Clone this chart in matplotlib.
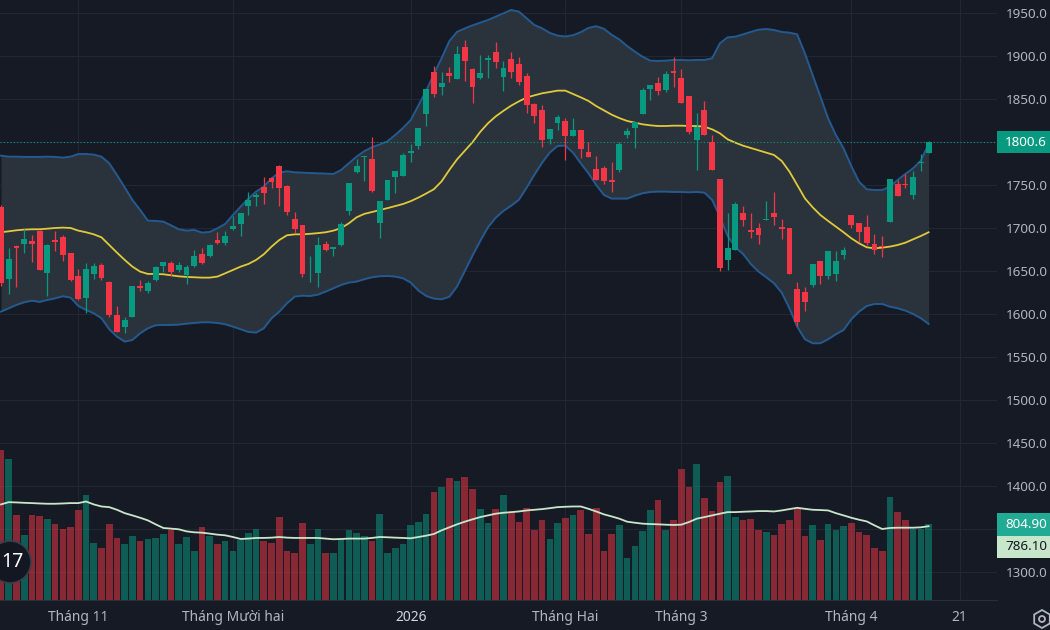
import matplotlib

matplotlib.use("Agg")
import matplotlib.pyplot as plt
from matplotlib.patches import Circle, Rectangle, RegularPolygon
from matplotlib.transforms import IdentityTransform

plt.rcParams["font.family"] = ["Noto Sans", "DejaVu Sans"]

# ---------- data (daily candles, ~Oct 2025 - Apr 2026) ----------
opens = [1724, 1641, 1679, 1681, 1685, 1697, 1648, 1686, 1690, 1671,
         1644, 1618, 1647, 1657, 1637, 1599, 1585, 1597, 1632, 1627,
         1640, 1656, 1659, 1651, 1645, 1656, 1670, 1667, 1686, 1683,
         1699, 1705, 1726, 1736, 1748, 1758, 1772, 1749, 1711, 1704,
         1646, 1648, 1681, 1676, 1680, 1720, 1765, 1783, 1780, 1706,
         1733, 1759, 1761, 1787, 1796, 1833, 1882, 1864, 1881, 1874,
         1911, 1885, 1875, 1896, 1905, 1876, 1897, 1891, 1877, 1844,
         1838, 1804, 1822, 1825, 1807, 1814, 1789, 1769, 1770, 1756,
         1768, 1808, 1817, 1833, 1862, 1869, 1861, 1883, 1875, 1854,
         1803, 1838, 1800, 1757, 1663, 1675, 1717, 1698, 1700, 1709,
         1718, 1701, 1700, 1629, 1626, 1634, 1662, 1644, 1646, 1669,
         1715, 1706, 1701, 1682, 1679, 1707, 1751, 1751, 1739, 1776, 1787]
highs = [1727, 1677, 1680, 1699, 1692, 1698, 1681, 1697, 1692, 1671,
         1652, 1659, 1659, 1659, 1638, 1609, 1597, 1633, 1640, 1638,
         1656, 1661, 1662, 1660, 1657, 1675, 1677, 1682, 1695, 1697,
         1714, 1718, 1742, 1741, 1759, 1759, 1773, 1750, 1719, 1704,
         1667, 1690, 1685, 1678, 1707, 1752, 1780, 1784, 1806, 1732,
         1756, 1767, 1787, 1798, 1817, 1862, 1889, 1882, 1888, 1912,
         1919, 1886, 1902, 1901, 1917, 1895, 1905, 1899, 1880, 1846,
         1843, 1815, 1832, 1828, 1828, 1814, 1800, 1784, 1772, 1777,
         1800, 1816, 1823, 1863, 1867, 1876, 1883, 1899, 1885, 1854,
         1834, 1848, 1808, 1757, 1717, 1730, 1726, 1717, 1706, 1732,
         1742, 1711, 1700, 1637, 1631, 1658, 1662, 1673, 1673, 1678,
         1715, 1706, 1715, 1693, 1691, 1757, 1756, 1763, 1767, 1786, 1801]
lows = [1633, 1623, 1631, 1671, 1661, 1651, 1621, 1673, 1662, 1638,
        1616, 1601, 1641, 1640, 1596, 1579, 1578, 1596, 1627, 1624,
        1638, 1649, 1644, 1649, 1635, 1655, 1658, 1666, 1682, 1680,
        1698, 1691, 1715, 1726, 1728, 1747, 1726, 1715, 1694, 1643,
        1637, 1631, 1673, 1667, 1679, 1715, 1764, 1755, 1742, 1689,
        1733, 1741, 1761, 1777, 1792, 1819, 1852, 1855, 1870, 1874,
        1871, 1846, 1874, 1875, 1886, 1860, 1875, 1867, 1834, 1822,
        1794, 1798, 1814, 1779, 1807, 1782, 1783, 1756, 1751, 1742,
        1765, 1805, 1793, 1833, 1849, 1855, 1858, 1864, 1846, 1809,
        1768, 1808, 1768, 1650, 1651, 1675, 1702, 1689, 1681, 1709,
        1703, 1687, 1647, 1586, 1604, 1631, 1635, 1641, 1638, 1664,
        1700, 1684, 1680, 1670, 1666, 1707, 1737, 1747, 1734, 1767, 1787]
closes = [1636, 1664, 1677, 1687, 1682, 1651, 1680, 1684, 1669, 1639,
          1617, 1652, 1656, 1642, 1599, 1579, 1593, 1633, 1630, 1636,
          1655, 1660, 1649, 1657, 1655, 1668, 1659, 1680, 1683, 1691,
          1702, 1717, 1733, 1738, 1741, 1754, 1747, 1719, 1699, 1647,
          1647, 1680, 1675, 1678, 1705, 1752, 1772, 1784, 1743, 1731,
          1756, 1767, 1785, 1790, 1817, 1862, 1856, 1869, 1877, 1903,
          1894, 1864, 1880, 1898, 1893, 1886, 1882, 1870, 1843, 1830,
          1803, 1815, 1829, 1807, 1814, 1792, 1783, 1756, 1755, 1754,
          1798, 1813, 1823, 1861, 1867, 1860, 1879, 1880, 1846, 1812,
          1818, 1808, 1768, 1653, 1677, 1728, 1709, 1695, 1692, 1710,
          1713, 1699, 1647, 1591, 1614, 1658, 1644, 1673, 1662, 1675,
          1703, 1695, 1683, 1675, 1678, 1757, 1737, 1750, 1759, 1777, 1800.6]

# Bollinger band lines as drawn (upper / basis / lower)
bb_upper = [1784.3, 1783.1, 1783.1, 1782.8, 1782.8, 1782.8, 1783.1, 1782.8, 1782.0, 1783.1,
            1786.2, 1786.2, 1785.5, 1783.1, 1775.4, 1761.8, 1747.4, 1732.7, 1721.1, 1708.6,
            1708.3, 1707.5, 1703.2, 1698.6, 1697.0, 1697.8, 1694.7, 1695.5, 1699.7, 1704.8,
            1715.2, 1724.9, 1734.3, 1742.4, 1748.2, 1757.9, 1764.5, 1766.1, 1764.9, 1764.5,
            1764.1, 1763.7, 1763.4, 1763.0, 1767.6, 1775.4, 1783.1, 1789.5, 1794.2, 1797.3,
            1801.0, 1808.4, 1816.5, 1825.8, 1842.7, 1859.8, 1879.2, 1897.6, 1917.6, 1928.5,
            1932.3, 1936.0, 1939.1, 1942.2, 1946.1, 1950.0, 1953.9, 1951.9, 1944.2, 1936.4,
            1932.5, 1927.2, 1924.0, 1923.0, 1924.5, 1928.0, 1933.0, 1935.0, 1932.0, 1925.0,
            1919.5, 1911.9, 1905.4, 1899.5, 1894.9, 1894.5, 1894.9, 1895.7, 1895.7, 1895.3,
            1895.7, 1895.7, 1897.6, 1915.1, 1922.0, 1922.8, 1925.5, 1928.3, 1931.0, 1931.7,
            1930.6, 1928.3, 1927.5, 1925.5, 1903.4, 1878.2, 1853.0, 1827.8, 1808.4, 1792.8,
            1772.3, 1754.0, 1745.1, 1744.3, 1744.3, 1748.2, 1756.0, 1763.0, 1769.6, 1778.5, 1797.9]
bb_basis = [1695.1, 1696.2, 1697.4, 1698.2, 1698.6, 1698.6, 1699.3, 1700.1, 1700.5, 1700.1,
            1697.0, 1695.1, 1692.7, 1689.2, 1680.3, 1671.4, 1662.9, 1655.1, 1649.3, 1646.6,
            1646.6, 1646.2, 1645.0, 1643.8, 1643.1, 1642.7, 1642.3, 1642.3, 1643.5, 1647.3,
            1651.2, 1655.1, 1658.2, 1662.9, 1669.5, 1678.4, 1686.1, 1691.6, 1692.7, 1692.7,
            1693.3, 1694.1, 1695.1, 1697.0, 1700.0, 1705.5, 1712.5, 1716.5, 1718.7, 1721.0,
            1723.2, 1725.6, 1728.0, 1731.3, 1735.5, 1740.2, 1745.2, 1754.4, 1767.7, 1780.0,
            1790.0, 1800.0, 1812.0, 1822.0, 1830.0, 1836.5, 1842.5, 1847.5, 1852.0, 1854.5,
            1856.9, 1858.4, 1860.0, 1860.0, 1856.1, 1852.2, 1848.0, 1842.0, 1837.0, 1832.0,
            1828.0, 1824.7, 1822.7, 1820.8, 1819.6, 1818.8, 1818.8, 1819.2, 1819.2, 1818.8,
            1818.8, 1818.0, 1814.9, 1810.3, 1803.3, 1799.4, 1795.9, 1793.2, 1790.5, 1787.8,
            1785.1, 1778.1, 1765.7, 1750.2, 1734.6, 1724.2, 1715.2, 1708.3, 1701.7, 1695.1,
            1688.1, 1682.3, 1677.6, 1676.4, 1677.2, 1678.4, 1680.3, 1683.0, 1686.9, 1690.8, 1695.1]
bb_lower = [1602.7, 1606.6, 1610.5, 1613.6, 1615.5, 1614.0, 1616.3, 1618.2, 1620.6, 1619.0,
            1609.3, 1604.7, 1600.8, 1595.0, 1582.2, 1573.6, 1567.8, 1569.7, 1577.5, 1583.3,
            1586.8, 1587.2, 1587.2, 1587.6, 1588.7, 1589.5, 1590.3, 1590.3, 1589.5, 1588.0,
            1585.3, 1582.2, 1579.1, 1578.3, 1583.3, 1595.0, 1602.7, 1612.4, 1620.2, 1621.3,
            1620.9, 1622.5, 1626.0, 1629.9, 1633.8, 1636.5, 1637.7, 1640.4, 1642.7, 1643.9,
            1644.2, 1643.5, 1641.5, 1636.5, 1627.2, 1621.0, 1617.9, 1617.1, 1620.0, 1632.0,
            1650.0, 1668.0, 1685.0, 1701.0, 1712.0, 1720.0, 1726.0, 1733.0, 1747.0, 1762.0,
            1776.0, 1788.0, 1795.5, 1796.0, 1787.8, 1775.4, 1763.7, 1750.2, 1738.5, 1734.3,
            1734.3, 1734.3, 1737.7, 1740.5, 1742.0, 1742.4, 1742.4, 1742.0, 1742.0, 1741.6,
            1742.0, 1741.2, 1732.7, 1713.3, 1690.8, 1677.6, 1669.8, 1658.2, 1649.3, 1642.7,
            1635.7, 1624.8, 1606.6, 1585.3, 1570.5, 1565.9, 1565.9, 1570.5, 1576.3, 1581.4,
            1593.8, 1602.7, 1609.3, 1611.6, 1611.6, 1608.5, 1606.6, 1603.9, 1600.0, 1595.0, 1588.4]

volume = [1601, 1502, 901, 692, 901, 892, 866, 813, 758, 775,
          961, 1113, 611, 550, 813, 655, 594, 678, 629, 647,
          655, 700, 746, 594, 668, 519, 774, 678, 594, 629,
          519, 643, 709, 755, 629, 611, 883, 519, 503, 822,
          594, 758, 505, 505, 652, 749, 717, 682, 629, 912,
          505, 558, 594, 802, 830, 919, 1155, 1201, 1300, 1265,
          1314, 1184, 965, 820, 972, 1113, 936, 830, 982, 749,
          855, 654, 820, 876, 901, 954, 700, 982, 519, 707,
          802, 452, 572, 731, 954, 1067, 749, 848, 1396, 1201,
          1449, 1085, 943, 1261, 1325, 883, 848, 866, 742, 721,
          696, 813, 848, 979, 686, 795, 636, 813, 742, 784,
          820, 728, 696, 558, 519, 1102, 936, 848, 756, 756, 804.9]
volume_ma = [1018, 1042, 1039, 1035, 1032, 1028, 1025, 1025, 1028, 1032,
             1032, 1049, 1018, 996, 989, 961, 925, 901, 876, 848,
             806, 767, 760, 753, 731, 721, 717, 707, 696, 689,
             671, 650, 654, 661, 661, 664, 671, 664, 661, 661,
             661, 661, 654, 647, 650, 654, 654, 654, 661, 671,
             668, 664, 661, 657, 671, 685, 703, 742, 774, 806,
             834, 859, 883, 901, 919, 929, 936, 943, 954, 961,
             968, 978, 989, 993, 996, 996, 971, 943, 912, 890,
             866, 834, 823, 813, 809, 806, 802, 799, 802, 830,
             866, 883, 901, 919, 936, 936, 940, 943, 947, 947,
             943, 954, 968, 982, 971, 961, 958, 954, 925, 901,
             876, 855, 837, 795, 756, 767, 770, 770, 770, 774, 786.1]

tick_pos = [10, 30, 53, 73, 88, 110, 124]
tick_labels = ["Tháng 11", "Tháng Mười hai", "2026", "Tháng Hai", "Tháng 3", "Tháng 4", "21"]
price_levels = list(range(1300, 1951, 50))

# ---------- style ----------
BG = "#161a25"
GRID = "#232734"
TXT = "#b2b5be"
UP, DOWN = "#089981", "#f23645"
FS_Y = 9.7
FS_X = 10.0

W, H = 1050, 630
fig = plt.figure(figsize=(W / 100, H / 100), dpi=100, facecolor=BG)
pos = [0, 30 / H, 997 / W, 600 / H]
ax = fig.add_axes(pos, facecolor=BG)
axv = ax.twinx()

n = len(closes)
idx = list(range(n))
up = [c >= o for o, c in zip(opens, closes)]
col = [UP if u else DOWN for u in up]

# Bollinger band
ax.fill_between(idx, bb_lower, bb_upper, color="#2a333b", lw=0, zorder=1)
ax.plot(idx, bb_upper, color="#245a90", lw=1.4, zorder=2)
ax.plot(idx, bb_lower, color="#245a90", lw=1.4, zorder=2)
ax.plot(idx, bb_basis, color="#e0c93a", lw=1.3, zorder=2)

# candles
ax.vlines(idx, lows, highs, colors=col, lw=0.9, zorder=3)
body_bottom = [min(o, c) for o, c in zip(opens, closes)]
body_h = [max(abs(c - o), 1.0) for o, c in zip(opens, closes)]
ax.bar(idx, body_h, bottom=body_bottom, width=0.76, color=col, lw=0, zorder=4)

# last price line
ax.axhline(closes[-1], color=UP, lw=0.8, ls=(0, (1, 2)), zorder=2)

ax.set_xlim(-0.13, 128.85)
ax.set_ylim(1267.0, 1965.5)
ax.set_yticks(price_levels)
ax.set_yticklabels(["" if v in (1800, 1350) else f"{v:.1f}" for v in price_levels])
ax.yaxis.tick_right()
ax.tick_params(axis="y", length=0, pad=6.0, labelsize=FS_Y, labelcolor=TXT)
ax.set_xticks(tick_pos)
ax.set_xticklabels(tick_labels)
ax.tick_params(axis="x", length=0, pad=7.5, labelsize=FS_X, labelcolor=TXT)
for lab in ax.get_xticklabels():
    if lab.get_text() == "2026":
        lab.set_fontweight("bold")
        lab.set_color("#d1d4dc")
ax.grid(True, color=GRID, lw=0.8)
ax.set_axisbelow(True)
for s in ax.spines.values():
    s.set_visible(False)
ax.spines["bottom"].set_visible(True)
ax.spines["bottom"].set_color("#2a2e39")

# volume pane
vcol = [UP if u else DOWN for u in up]
axv.bar(idx, volume, width=0.86, color=vcol, alpha=0.52, lw=0, zorder=1)
axv.plot(idx, volume_ma, color="#c8e6c9", lw=1.3, zorder=2)
axv.set_ylim(0, 6390)
axv.set_yticks([])
for s in axv.spines.values():
    s.set_visible(False)


# right-hand value labels
def fx(px):
    return px / W


def fy(py):
    return 1 - py / H


for y0, y1, fc, tc, txt in [(131, 153, UP, "white", f"{closes[-1]:.1f}"),
                             (513, 536, "#22ab94", "white", f"{volume[-1]:.2f}"),
                             (536, 558, "#c8e6c9", "#131722", f"{volume_ma[-1]:.2f}")]:
    fig.add_artist(Rectangle((fx(997), fy(y1)), fx(53), (y1 - y0) / H,
                             transform=fig.transFigure, facecolor=fc, edgecolor="none"))
    fig.text(fx(1005), fy((y0 + y1) / 2), txt, color=tc, fontsize=FS_Y,
             va="center", ha="left")

# TradingView logo + settings icon
fig.add_artist(Circle((10, H - 562), 21, transform=IdentityTransform(),
                      facecolor="#131722", edgecolor="#3a3e4a", lw=1.2))
fig.text(fx(12), fy(562), "17", color="white", fontsize=14, fontweight="bold",
         ha="center", va="center")
fig.add_artist(RegularPolygon((1042, H - 619), 6, radius=9, transform=IdentityTransform(),
                              facecolor="none", edgecolor=TXT, lw=1.3))
fig.add_artist(Circle((1042, H - 619), 3, transform=IdentityTransform(),
                      facecolor="none", edgecolor=TXT, lw=1.3))

fig.savefig("out.png", dpi=100, facecolor=BG)
